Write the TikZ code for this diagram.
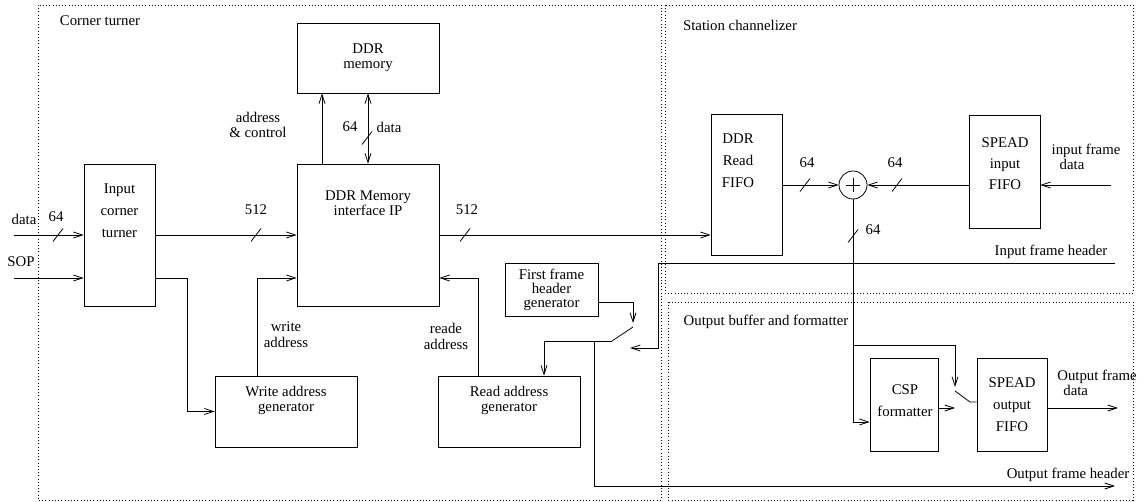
\documentclass[tikz,border=0pt]{standalone}
\usepackage{fontspec}
\setmainfont{Liberation Serif}
\usetikzlibrary{arrows.meta,positioning,calc}

\begin{document}
\begin{tikzpicture}[
    x=1pt, y=-1pt,
    txt/.style={font=\fontsize{14.8}{15.5}\selectfont, align=center, inner sep=0pt},
    loose/.style={txt, font=\fontsize{14.8}{22}\selectfont},
    box/.style={draw, line width=0.8pt, inner sep=0pt},
    arr/.style={-{Straight Barb[length=9pt,width=6pt]}, line width=0.8pt},
    biarr/.style={{Straight Barb[length=9pt,width=6pt]}-{Straight Barb[length=9pt,width=6pt]}, line width=0.8pt},
    wire/.style={line width=0.8pt},
    region/.style={line width=0.7pt, dash pattern=on 0.7pt off 2.5pt},
    busmark/.pic={\draw[wire] (-5,6.5) -- (5,-6.5);}
]
\useasboundingbox (0,0) rectangle (1143,502);

% Dotted regions
\draw[region] (38,5) rectangle (661,500);
\draw[region] (665,5) rectangle (1133,293);
\draw[region] (668,302) rectangle (1133,500);
\node[txt] (ctlbl) at (100,21) {Corner turner};
\node[txt] (sclbl) at (740,25) {Station channelizer};
\node[txt] (oblbl) at (766,322) {Output buffer and formatter};

% Corner turner blocks
\node[box, minimum width=71, minimum height=142] (cturn) at (119.5,235) {};
\node[loose] (cturntxt) at (119.5,211) {Input\\corner\\turner};
\node[box, txt, minimum width=142, minimum height=70] (ddrmem) at (368,58) {DDR\\memory};
\node[box, minimum width=142, minimum height=142] (ddrif) at (368,235) {};
\node[txt] (ddriftxt) at (368,203) {DDR Memory\\interface IP};
\node[box, minimum width=142, minimum height=71] (wgen) at (286,411.5) {};
\node[txt] (wgentxt) at (286,400.5) {Write address\\generator};
\node[box, minimum width=142, minimum height=71] (rgen) at (509,411.5) {};
\node[txt] (rgentxt) at (509,400.5) {Read address\\generator};
\node[box, txt, font=\fontsize{14.8}{14}\selectfont, minimum width=93, minimum height=53] (ffhg) at (551.5,289.5) {First frame\\header\\generator};

% Station channelizer blocks
\node[box, minimum width=71, minimum height=141] (rfifo) at (746.5,185) {};
\node[loose] (rfifotxt) at (738,161) {DDR\\Read\\FIFO};
\node[box, minimum width=71, minimum height=113] (sinfifo) at (1004.5,171.5) {};
\node[loose, font=\fontsize{14.8}{21}\selectfont] (sinfifotxt) at (1005,164) {SPEAD\\input\\FIFO};
\node[draw, circle, line width=0.8pt, minimum size=28, inner sep=0pt] (adder) at (853,185) {};
\draw[wire] ([xshift=-7pt]adder.center) -- ([xshift=7pt]adder.center);
\draw[wire] ([yshift=-7pt]adder.center) -- ([yshift=7pt]adder.center);

% Output buffer blocks
\node[box, minimum width=68, minimum height=93] (csp) at (904,404.5) {};
\node[loose] (csptxt) at (905,401) {CSP\\formatter};
\node[box, loose, minimum width=70, minimum height=93] (soutfifo) at (1012,404.5) {SPEAD\\output\\FIFO};

% Inputs
\coordinate (datain) at (14,235);
\coordinate (sopin) at (14,278);
\draw[arr] (datain) -- (datain -| cturn.west);
\draw[arr] (sopin) -- (sopin -| cturn.west);
\node[txt] (datalbl) at (24,219) {data};
\node[txt] (soplbl) at (21,262) {SOP};
\pic at (58,235) {busmark};
\node[txt] (w64a) at (56,217) {64};

% Corner turner connections
\draw[arr] (cturn.east) -- (ddrif.west);
\pic at (256,235) {busmark};
\node[txt] (w512a) at (256,210) {512};
\draw[arr] (cturn.east |- sopin) -- ++(32,0) |- (wgen.west);
\draw[arr] ([xshift=-29pt]wgen.north) |- (ddrif.west |- sopin);
\node[txt] (walbl) at (286,334.5) {write\\address};
\draw[arr] ([xshift=-46pt]ddrif.north) -- ([xshift=-46pt]ddrmem.south);
\node[txt] (aclbl) at (258,125) {address\\\& control};
\draw[biarr] (ddrif.north) -- (ddrmem.south);
\pic at (367,138) {busmark};
\node[txt] (w64b) at (350,127) {64};
\node[txt] (dlbl) at (389,127) {data};
\draw[arr] (ddrif.east) -- (ddrif.east -| rfifo.west);
\pic at (465,235) {busmark};
\node[txt] (w512b) at (467,210) {512};
\draw[arr] ([xshift=-31pt]rgen.north) |- (ddrif.east |- sopin);
\node[txt] (ralbl) at (446,336.5) {reade\\address};

% Header switch
\coordinate (swtop) at (633,327);
\coordinate (swpiv) at (612,341);
\coordinate (tap) at (594,341);
\draw[arr] ([yshift=-12.5pt]ffhg.east) -| ([yshift=4pt]swtop);
\draw[wire] (swpiv) -- (swtop);
\draw[arr] (swpiv) -| ([xshift=35pt]rgen.north);
\coordinate (ohdr) at (1115,486);
\draw[arr] (tap) |- (ohdr);
\node[txt] (ohdrlbl) at (1068,475) {Output frame header};
\coordinate (ihdr) at (1115,263);
\coordinate (ihdrbend) at (658,348);
\coordinate (ihdrend) at (630,348);
\draw[arr] (ihdr) -| (ihdrbend) -- (ihdrend);
\node[txt] (ihdrlbl) at (1051,252) {Input frame header};

% Station channelizer connections
\draw[arr] (rfifo.east |- adder) -- (adder.west);
\pic at (805,185) {busmark};
\node[txt] (w64c) at (807,163) {64};
\draw[arr] (sinfifo.west |- adder) -- (adder.east);
\pic at (897,185) {busmark};
\node[txt] (w64d) at (895,163) {64};
\coordinate (ifdata) at (1111,185);
\draw[arr] (ifdata) -- (ifdata -| sinfifo.east);
\node[txt, align=left] (ifdlbl) at (1086,157) {input frame\\\hspace*{8pt}data};

% Output buffer connections
\coordinate (split) at (853,345);
\coordinate (oswtop) at (955,391);
\coordinate (oswpiv) at (970,402);
\draw[wire] (adder.south) -- (split);
\pic at (853,236) {busmark};
\node[txt] (w64e) at (873,230) {64};
\draw[arr] (split) -| ([yshift=4pt]oswtop);
\draw[arr] (split) |- ([yshift=-17.5pt]csp.west);
\draw[arr] ([yshift=-3.5pt]csp.east) -- ([yshift=-3.5pt]csp.east -| oswtop);
\draw[wire] (oswtop) -- (oswpiv) -- (oswpiv -| soutfifo.west);
\coordinate (ofdata) at (1118,408);
\draw[arr] (soutfifo.east |- ofdata) -- (ofdata);
\node[txt, align=left] (ofdlbl) at (1097,383) {Output frame\\\hspace*{6pt}data};

\end{tikzpicture}
\end{document}
